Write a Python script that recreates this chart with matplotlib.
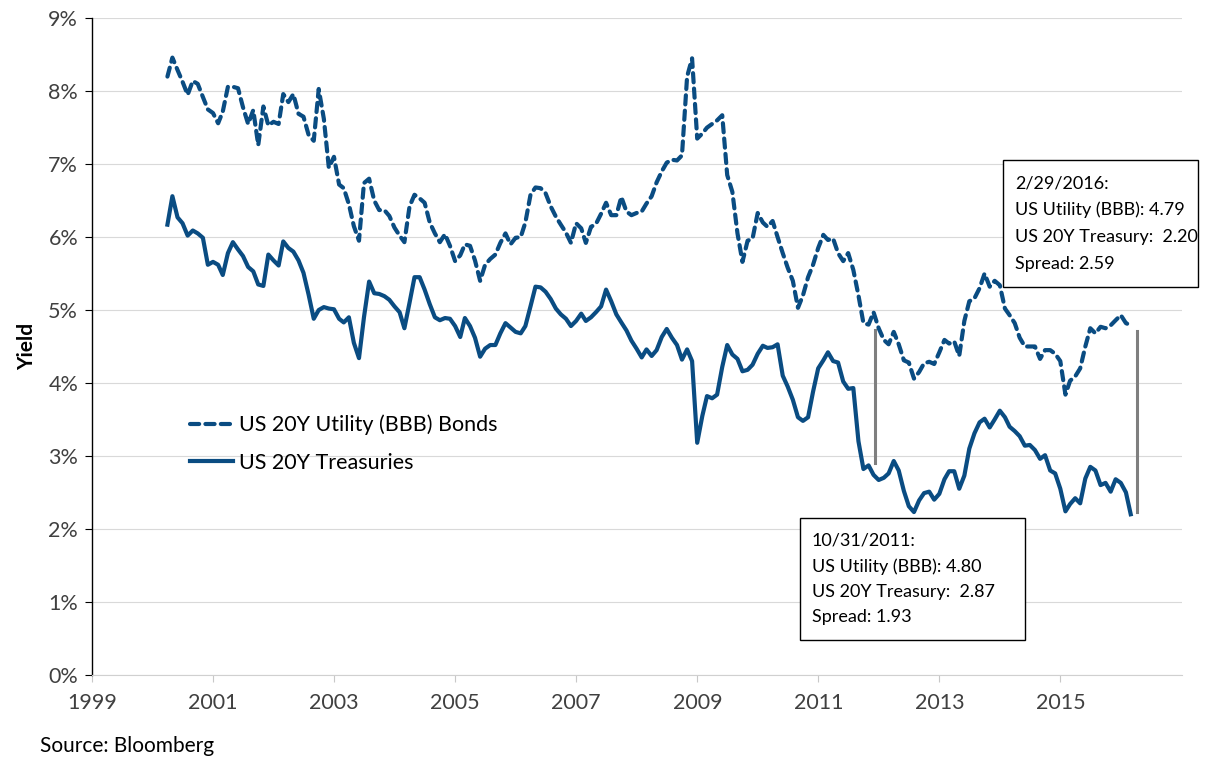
import numpy as np
import pandas as pd
import matplotlib
matplotlib.use('Agg')
import matplotlib.pyplot as plt
import matplotlib.dates as mdates
from matplotlib.patches import Rectangle

plt.rcParams['font.family'] = ['Lato', 'DejaVu Sans']

# monthly yields, 3/2000 - 2/2016
dates = pd.date_range('2000-03-31', '2016-02-29', freq='ME')

utility = [
    8.20, 8.46, 8.29, 8.13, 7.95, 8.14, 8.10, 7.92, 7.75, 7.70, 7.56, 7.72, 8.06, 8.06, 8.04, 7.78,
    7.55, 7.74, 7.26, 7.79, 7.53, 7.58, 7.55, 7.96, 7.85, 7.96, 7.69, 7.65, 7.40, 7.32, 8.03, 7.62, 6.95,
    7.10, 6.72, 6.67, 6.45, 6.15, 5.95, 6.74, 6.80, 6.50, 6.37, 6.37, 6.29, 6.13, 6.02, 5.93, 6.42,
    6.58, 6.53, 6.47, 6.20, 6.05, 5.93, 6.04, 5.88, 5.67, 5.75, 5.90, 5.88, 5.68,
    5.40, 5.62, 5.70, 5.76, 5.92, 6.05, 5.90, 5.99, 6.00, 6.20, 6.58, 6.68, 6.67, 6.60, 6.42, 6.28,
    6.17, 6.06, 5.92, 6.19, 6.12, 5.92, 6.14, 6.18, 6.32, 6.47, 6.30, 6.30, 6.55, 6.35, 6.30, 6.33,
    6.35, 6.46, 6.56, 6.75, 6.90, 7.02, 7.06, 7.05, 7.12, 8.20, 8.45, 7.35, 7.42, 7.50, 7.55, 7.60,
    7.67, 6.85, 6.62, 6.05, 5.66, 5.95, 5.98, 6.33, 6.20, 6.14, 6.22, 6.00, 5.78, 5.58, 5.40, 5.03, 5.20, 5.45,
    5.62, 5.85, 6.03, 5.96, 5.98, 5.78, 5.67, 5.78, 5.55, 5.20, 4.82, 4.80, 4.97, 4.75, 4.59, 4.53,
    4.70, 4.53, 4.31, 4.28, 4.06, 4.15, 4.27, 4.29, 4.26, 4.42, 4.59, 4.54, 4.57, 4.37, 4.85, 5.12,
    5.16, 5.30, 5.50, 5.32, 5.40, 5.34, 5.02, 4.93, 4.82, 4.62, 4.50, 4.50, 4.50, 4.33, 4.45, 4.45,
    4.40, 4.30, 3.84, 4.03, 4.09, 4.20, 4.50, 4.75, 4.68, 4.77, 4.75, 4.79, 4.86, 4.93, 4.82, 4.79,
]

treasury = [
    6.17, 6.56, 6.27, 6.19, 6.02, 6.09, 6.05, 5.99, 5.62, 5.66, 5.62, 5.48, 5.78, 5.93, 5.83, 5.74,
    5.59, 5.53, 5.35, 5.33, 5.76, 5.68, 5.61, 5.94, 5.85, 5.80, 5.68, 5.51, 5.21, 4.88, 5.00, 5.04, 5.02,
    5.01, 4.88, 4.83, 4.90, 4.55, 4.34, 4.90, 5.39, 5.23, 5.22, 5.19, 5.14, 5.05, 4.97, 4.75, 5.10,
    5.45, 5.45, 5.28, 5.08, 4.90, 4.86, 4.89, 4.88, 4.78, 4.63, 4.89, 4.78, 4.62,
    4.36, 4.47, 4.52, 4.52, 4.68, 4.82, 4.76, 4.70, 4.68, 4.78, 5.05, 5.32, 5.31, 5.25, 5.15, 5.02,
    4.94, 4.88, 4.78, 4.85, 4.95, 4.85, 4.90, 4.97, 5.05, 5.28, 5.12, 4.94, 4.83, 4.72, 4.58, 4.47,
    4.35, 4.46, 4.37, 4.45, 4.63, 4.74, 4.62, 4.52, 4.32, 4.46, 4.30, 3.18, 3.55, 3.82, 3.79, 3.84,
    4.22, 4.52, 4.39, 4.33, 4.16, 4.18, 4.25, 4.40, 4.51, 4.48, 4.49, 4.53, 4.10, 3.95, 3.77, 3.53, 3.48, 3.53,
    3.88, 4.20, 4.31, 4.42, 4.30, 4.28, 4.02, 3.92, 3.93, 3.20, 2.82, 2.87, 2.74, 2.67, 2.70, 2.76,
    2.93, 2.80, 2.52, 2.31, 2.23, 2.39, 2.49, 2.51, 2.40, 2.48, 2.68, 2.79, 2.79, 2.55, 2.73, 3.10,
    3.31, 3.46, 3.51, 3.39, 3.50, 3.62, 3.53, 3.40, 3.34, 3.27, 3.14, 3.15, 3.08, 2.96, 3.01, 2.80,
    2.76, 2.55, 2.24, 2.34, 2.42, 2.35, 2.69, 2.85, 2.80, 2.60, 2.63, 2.51, 2.68, 2.63, 2.50, 2.20,
]

spread_dates = ['2011-10-31', '2016-02-29']
year_ticks = [1999, 2001, 2003, 2005, 2007, 2009, 2011, 2013, 2015]

df = pd.DataFrame({'utility': utility, 'treasury': treasury}, index=dates)

blue = '#0a4c82'
fig = plt.figure(figsize=(12.27, 7.59), dpi=100)
ax = fig.add_axes([0.075, 0.111, 0.888, 0.865])

ax.plot(df.index, df['utility'], color=blue, lw=3, ls=(0, (2.2, 1.5)),
        dash_capstyle='round', label='US 20Y Utility (BBB) Bonds')
ax.plot(df.index, df['treasury'], color=blue, lw=3, solid_joinstyle='round',
        label='US 20Y Treasuries')

# spread markers
for d in spread_dates:
    row = df.loc[d]
    xd = pd.Timestamp(d) + pd.Timedelta(days=40)
    ax.plot([xd, xd], [row['treasury'] + 0.03, row['utility'] - 0.08], color='#7f7f7f', lw=2.2)

ax.set_xlim(pd.Timestamp('1999-01-01'), pd.Timestamp('2017-01-01'))
ax.set_ylim(0, 9)
ax.set_yticks(range(0, 10))
ax.set_yticklabels([f'{v}%' for v in range(0, 10)])
ax.set_xticks([pd.Timestamp(f'{y}-01-01') for y in year_ticks])
ax.xaxis.set_major_formatter(mdates.DateFormatter('%Y'))

ax.grid(axis='y', color='#d9d9d9', lw=0.8)
ax.set_axisbelow(True)
for s in ['top', 'right']:
    ax.spines[s].set_visible(False)
ax.spines['left'].set_color('#000000')
ax.spines['left'].set_linewidth(1)
ax.spines['bottom'].set_color('#d0d0d0')
ax.tick_params(axis='y', length=5, color='#000000', labelsize=15.5, labelcolor='#404040', pad=5)
ax.tick_params(axis='x', length=5, color='#c8c8c8', labelsize=15.5, labelcolor='#404040', pad=8)

ax.set_ylabel('Yield', fontsize=15, fontweight='bold', labelpad=8)

leg = ax.legend(loc='center left', bbox_to_anchor=(0.09, 0.352), frameon=False, borderpad=0,
                borderaxespad=0, fontsize=15.5, handlelength=2.0, handletextpad=0.25,
                labelspacing=0.8)

# annotation boxes
def note_box(x0, y0, x1, y1, d):
    row = df.loc[d]
    u, t = row['utility'], row['treasury']
    ts = pd.Timestamp(d)
    lines = [f"{ts.month}/{ts.day}/{ts.year}:",
             f"US Utility (BBB): {u:.2f}",
             f"US 20Y Treasury:  {t:.2f}",
             f"Spread: {u - t:.2f}"]
    W, H = 1227, 759
    fig.add_artist(Rectangle((x0 / W, 1 - y1 / H), (x1 - x0) / W, (y1 - y0) / H,
                             transform=fig.transFigure, facecolor='white',
                             edgecolor='#000000', lw=1, zorder=5))
    step = (y1 - y0 - 20) / 4
    for k, s in enumerate(lines):
        fig.text((x0 + 12) / W, 1 - (y0 + 10 + step * (k + 0.5)) / H, s,
                 fontsize=13, va='center', ha='left', color='#000000', zorder=6)

note_box(1003, 160, 1198, 287, spread_dates[1])
note_box(800, 518, 1025, 640, spread_dates[0])

fig.text(40 / 1227, 1 - 746 / 759, 'Source: Bloomberg', fontsize=15, va='center', ha='left')

fig.savefig('out.png', dpi=100)
